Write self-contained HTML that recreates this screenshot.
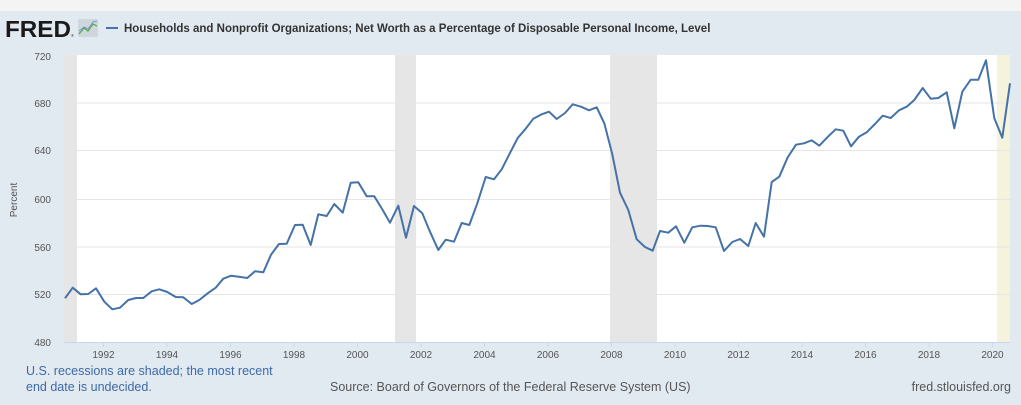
<!DOCTYPE html>
<html><head><meta charset="utf-8"><style>
html,body{margin:0;padding:0;}
body{width:1021px;height:405px;overflow:hidden;background:#e1e9f1;font-family:"Liberation Sans",sans-serif;}
</style></head><body>
<svg width="1021" height="405" xmlns="http://www.w3.org/2000/svg" style="display:block">
<rect x="0" y="0" width="1021" height="11" fill="#f4f4f4"/>
<rect x="0" y="11" width="1021" height="394" fill="#e1e9f1"/>
<text x="5" y="37" font-family="Liberation Sans,sans-serif" font-weight="bold" font-size="23" fill="#1a1a1a" textLength="66" lengthAdjust="spacingAndGlyphs">FRED</text>
<text x="71" y="37" font-size="4" fill="#333">®</text>
<rect x="78" y="19" width="20" height="18" rx="2" fill="#cfd6dc"/>
<polyline points="79,34 84,28 88,31 93,24 97,26" fill="none" stroke="#5aa64a" stroke-width="1.2"/>
<polyline points="79,31 84,27 88,29 93,22 97,21" fill="none" stroke="#6f9fd0" stroke-width="1"/>
<line x1="106" y1="28" x2="118" y2="28" stroke="#4572a7" stroke-width="2"/>
<text x="124" y="32" font-size="11.5" font-weight="bold" fill="#333">Households and Nonprofit Organizations; Net Worth as a Percentage of Disposable Personal Income, Level</text>
<rect x="64" y="55" width="946" height="287" fill="#fff"/>
<rect x="64" y="55" width="13" height="287" fill="#e6e6e6"/>
<rect x="395" y="55" width="21" height="287" fill="#e6e6e6"/>
<rect x="610" y="55" width="47" height="287" fill="#e6e6e6"/>
<rect x="997" y="55" width="13" height="287" fill="#f5f3dc"/>
<g stroke="#e6e6e6" stroke-width="1">
<line x1="64" y1="103" x2="1010" y2="103"/><line x1="64" y1="150.5" x2="1010" y2="150.5"/>
<line x1="64" y1="199.5" x2="1010" y2="199.5"/><line x1="64" y1="247" x2="1010" y2="247"/>
<line x1="64" y1="294.5" x2="1010" y2="294.5"/>
</g>
<line x1="64" y1="342.5" x2="1010" y2="342.5" stroke="#ccd6eb"/>
<g stroke="#ccd6eb"><line x1="103.5" y1="342" x2="103.5" y2="347"/><line x1="167" y1="342" x2="167" y2="347"/><line x1="230.5" y1="342" x2="230.5" y2="347"/><line x1="294" y1="342" x2="294" y2="347"/><line x1="357.5" y1="342" x2="357.5" y2="347"/><line x1="421" y1="342" x2="421" y2="347"/><line x1="484.5" y1="342" x2="484.5" y2="347"/><line x1="548" y1="342" x2="548" y2="347"/><line x1="611.5" y1="342" x2="611.5" y2="347"/><line x1="675" y1="342" x2="675" y2="347"/><line x1="738.5" y1="342" x2="738.5" y2="347"/><line x1="802" y1="342" x2="802" y2="347"/><line x1="865.5" y1="342" x2="865.5" y2="347"/><line x1="929" y1="342" x2="929" y2="347"/><line x1="992.5" y1="342" x2="992.5" y2="347"/></g>
<g font-size="10" fill="#555" text-anchor="end">
<text x="51" y="60">720</text><text x="51" y="107">680</text><text x="51" y="154">640</text><text x="51" y="203">600</text><text x="51" y="251">560</text><text x="51" y="298">520</text><text x="51" y="346">480</text>
</g>
<g font-size="10" fill="#555" text-anchor="middle">
<text x="103.5" y="358">1992</text><text x="167" y="358">1994</text><text x="230.5" y="358">1996</text><text x="294" y="358">1998</text><text x="357.5" y="358">2000</text><text x="421" y="358">2002</text><text x="484.5" y="358">2004</text><text x="548" y="358">2006</text><text x="611.5" y="358">2008</text><text x="675" y="358">2010</text><text x="738.5" y="358">2012</text><text x="802" y="358">2014</text><text x="865.5" y="358">2016</text><text x="929" y="358">2018</text><text x="992.5" y="358">2020</text>
</g>
<text transform="translate(17,200) rotate(-90)" font-size="10" fill="#555" text-anchor="middle">Percent</text>
<polyline fill="none" stroke="#4572a7" stroke-width="2" stroke-linejoin="round" points="
65,298.3 72.7,287.7 80.7,294.3 88.3,294 96,288.3 104.3,301.7 112.3,309.3 120,307.7 128.3,300 136,298 143.3,298 151.7,291.3 159.3,289.3 167.3,292 175.7,297 183.3,297.3 191.7,304 199.3,300 207.7,293.3 215.7,287.7 223.3,278.7 231,275.7 239,276.7 247.3,278 255,271.3 263.3,272.3 271,254.7 279,244 286.7,243.7 295,225 302.7,224.7 310.7,245 318.3,214.3 326.7,216 334.3,204 342.7,212.7 350.7,182.7 358.3,182.3 366.7,196.3 374.3,196.3 382.7,210 390,222.7 398.3,205.7 406,237.7 414,206 422.3,213.3 430,231.7 438.3,250 445.7,239.7 454,241.7 461.7,223 469.3,225 477.3,203.3 485.7,177 494,179.3 501.7,169.3 509.3,154.3 517.7,138 525.7,128.7 533.3,118.7 541.7,114.3 549,111.7 556.7,119 565,113 572.7,104.3 581,106.7 589,110.3 596.7,107.3 604.3,123.3 612.3,154.3 620,192.7 628.3,210 636.7,239.3 645,247 652.7,250.7 660,231 668.3,232.7 676,226.3 684.3,242.7 692.3,227.3 700.7,225.7 707.7,226 715.7,227.3 724,251 732.3,242 740,239 748.3,246 755.7,223 764,236.7 771.7,182 779.3,176.7 787.7,157.3 796,144.7 804,143.3 811.7,140.3 819.3,145.7 827.3,137.3 835.7,129.3 843.3,130.7 851,146.3 859,136.7 866.7,132.3 875,124 882.7,115.7 890.7,118 899,110.3 906.7,106.7 914.3,100 922.7,88 930.7,98.7 938.3,98 946.7,92.3 954.3,128.3 962.3,91.7 970.7,79.7 978.3,79.7 986,60.3 994.3,118.3 1002.3,137.7 1010,83.3"/>
<g font-size="12.5" fill="#3d6aa6">
<text x="26" y="375">U.S. recessions are shaded; the most recent</text>
<text x="26" y="391">end date is undecided.</text>
</g>
<text x="330" y="391" font-size="12.5" fill="#555">Source: Board of Governors of the Federal Reserve System (US)</text>
<text x="1011" y="391" font-size="12.5" fill="#555" text-anchor="end">fred.stlouisfed.org</text>
</svg>
</body></html>
